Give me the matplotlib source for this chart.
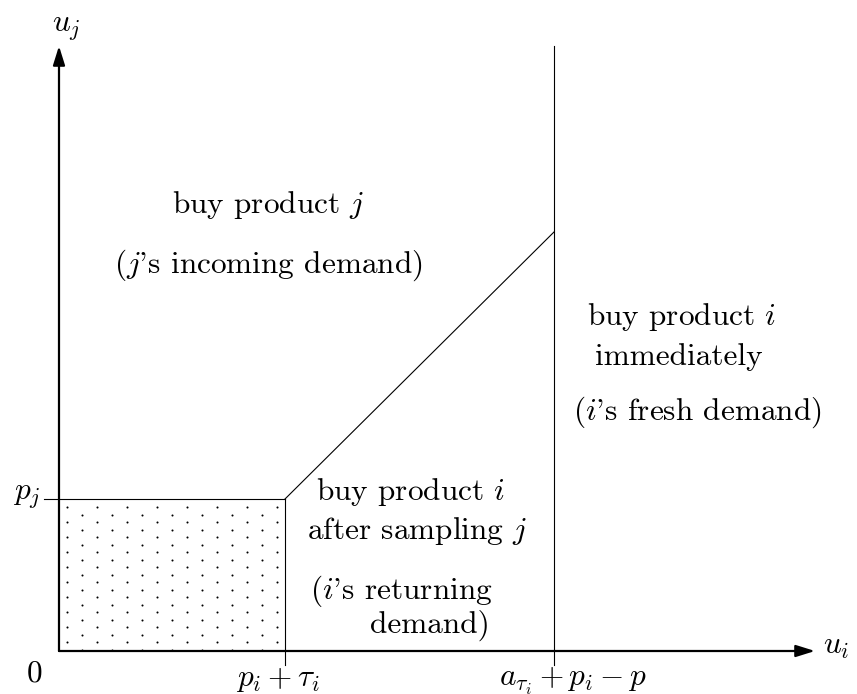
import matplotlib
matplotlib.use("Agg")
import matplotlib.pyplot as plt
import numpy as np

plt.rcParams['mathtext.fontset'] = 'cm'
plt.rcParams['font.family'] = ['cmr10', 'DejaVu Serif']

# key values of the diagram (axis units, origin at 0)
origin = (0, 0)
pi_tau = 226          # p_i + tau_i on the u_i axis
pj = 152              # p_j on the u_j axis
a_thr = 495           # a_{tau_i} + p_i - p on the u_i axis
diag_end = 419        # u_j where the boundary meets the vertical line
x_axis_end = 756
y_axis_end = 605
tick_low = -14
pj_tick_left = -15

# dot pattern in the shaded region
dot_dx = 30
dot_dy = 7.5
dot_x0 = 7.7
dot_y0 = 144

fig = plt.figure(figsize=(8.57, 6.94), dpi=100)
ax = fig.add_axes([0, 0, 1, 1])
ax.set_xlim(-59, 798)
ax.set_ylim(-43, 651)
ax.axis('off')

lw_axis = 1.6
lw_thin = 0.8
arrow = dict(arrowstyle='-|>,head_length=1.15,head_width=0.36', lw=lw_axis,
             color='black', shrinkA=0, shrinkB=0, mutation_scale=10)
ax.annotate('', xy=(x_axis_end, 0), xytext=origin, arrowprops=arrow)
ax.annotate('', xy=(0, y_axis_end), xytext=origin, arrowprops=arrow)

# shaded rectangle borders
ax.plot([pj_tick_left, pi_tau], [pj, pj], color='black', lw=lw_thin)
ax.plot([pi_tau, pi_tau], [tick_low, pj], color='black', lw=lw_thin)
# boundary between j and i after sampling
ax.plot([pi_tau, a_thr], [pj, diag_end], color='black', lw=lw_thin)
# fresh demand threshold
ax.plot([a_thr, a_thr], [tick_low, y_axis_end], color='black', lw=lw_thin)

# dots
xs, ys = [], []
for r, y in enumerate(np.arange(dot_y0, 0, -dot_dy)):
    start = dot_x0 if r % 2 == 0 else dot_x0 + dot_dx / 2
    for x in np.arange(start, pi_tau, dot_dx):
        xs.append(x)
        ys.append(y)
ax.scatter(xs, ys, s=2.2, color='black', linewidths=0)

fs = 22.5
kw = dict(fontsize=fs, va='baseline')
ax.text(7, 619, r'$u_j$', ha='center', **kw)
ax.text(764, -3, r'$u_i$', ha='left', **kw)
ax.text(-24, -31, '0', ha='center', **kw)
ax.text(-32, 151, r'$p_j$', ha='center', **kw)
ax.text(219, -35, r'$p_i+\tau_i$', ha='center', **kw)
ax.text(514, -35, r'$a_{\tau_i}+p_i-p$', ha='center', **kw)

ax.text(209, 438, r'buy product $j$', ha='center', **kw)
ax.text(209, 378, r"($j$'s incoming demand)", ha='center', **kw)
ax.text(623, 326, r'buy product $i$', ha='center', **kw)
ax.text(620, 286, 'immediately', ha='center', **kw)
ax.text(638, 231, r"($i$'s fresh demand)", ha='center', **kw)
ax.text(352, 151, r'buy product $i$', ha='center', **kw)
ax.text(358, 112, r'after sampling $j$', ha='center', **kw)
ax.text(251, 52, r"($i$'s returning", ha='left', **kw)
ax.text(311, 18, 'demand)', ha='left', **kw)

fig.savefig('out.png', dpi=100)
